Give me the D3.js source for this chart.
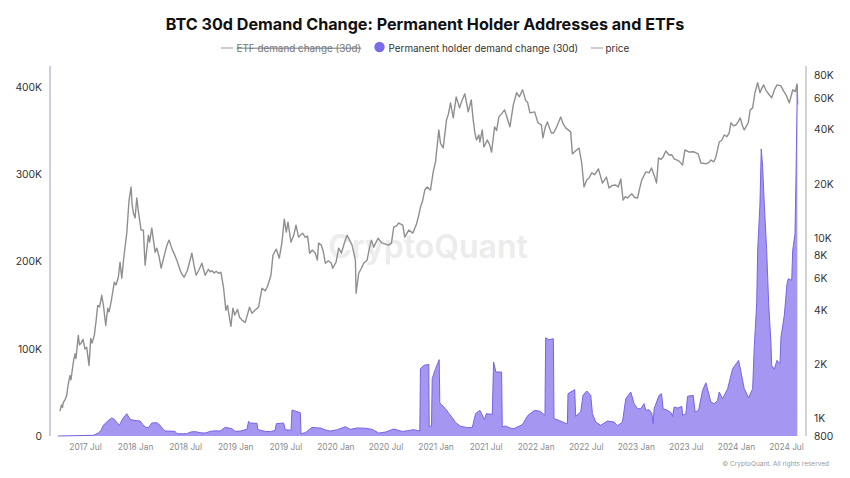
<!DOCTYPE html>
<html>
<head>
<meta charset="utf-8">
<script src="https://cdn.jsdelivr.net/npm/d3@7"></script>
<style>
  html, body { margin: 0; padding: 0; background: #fff; }
  text { font-family: Inter, "Noto Sans", sans-serif; }
</style>
</head>
<body>
<div id="chart"></div>
<script>
'use strict';

// [decimal year, USD]
const priceSeries = [
  [2017.25,1100],[2017.265,1190],[2017.275,1150],[2017.283,1225],[2017.3,1270],[2017.317,1340],[2017.33,1520],[2017.35,1730],
  [2017.36,1640],[2017.383,2050],[2017.4,2280],[2017.41,2150],[2017.433,2890],[2017.445,2560],[2017.46,2610],[2017.48,2750],
  [2017.5,2430],[2017.517,2480],[2017.54,1970],[2017.557,2780],[2017.57,2620],[2017.593,2890],[2017.61,3450],[2017.627,4240],
  [2017.645,4150],[2017.667,4820],[2017.685,4200],[2017.707,3280],[2017.727,4090],[2017.74,3900],[2017.76,4410],[2017.793,5700],
  [2017.81,5500],[2017.833,6070],[2017.85,7360],[2017.867,6000],[2017.89,8040],[2017.917,10660],[2017.94,16260],[2017.96,19200],
  [2017.97,15500],[2017.983,13770],[2018,12920],[2018.017,16680],[2018.035,13800],[2018.06,11080],[2018.083,11080],[2018.1,7080],
  [2018.133,10390],[2018.145,9500],[2018.167,11370],[2018.2,8360],[2018.217,8800],[2018.24,7900],[2018.26,6810],[2018.3,8360],
  [2018.32,9200],[2018.34,9750],[2018.373,8580],[2018.395,8100],[2018.417,7550],[2018.45,6640],[2018.47,6300],[2018.49,6070],
  [2018.523,6640],[2018.545,7400],[2018.567,8250],[2018.59,7000],[2018.61,6230],[2018.64,6700],[2018.667,7260],[2018.7,6230],
  [2018.733,6720],[2018.75,6500],[2018.77,6600],[2018.79,6400],[2018.81,6550],[2018.835,6380],[2018.857,6470],[2018.883,5340],
  [2018.907,3980],[2018.923,4240],[2018.94,3700],[2018.957,3240],[2018.977,4090],[2018.995,3750],[2019.023,4030],[2019.043,3640],
  [2019.07,3500],[2019.1,3410],[2019.143,4140],[2019.167,3830],[2019.2,4000],[2019.233,4140],[2019.267,5270],[2019.3,5100],
  [2019.323,5410],[2019.357,6230],[2019.377,8040],[2019.41,8690],[2019.44,7740],[2019.467,9500],[2019.49,12750],[2019.51,10800],
  [2019.527,12270],[2019.557,9500],[2019.585,10400],[2019.607,11810],[2019.633,10130],[2019.673,10660],[2019.7,10100],[2019.723,10260],
  [2019.743,8250],[2019.77,8600],[2019.8,8250],[2019.82,7550],[2019.833,9380],[2019.86,9140],[2019.88,8400],[2019.9,7260],
  [2019.93,7500],[2019.96,7260],[2019.973,6810],[2020.007,7360],[2020.033,8800],[2020.06,8250],[2020.09,9400],[2020.117,10390],
  [2020.14,9800],[2020.167,9140],[2020.2,7550],[2020.207,4950],[2020.233,6390],[2020.26,6810],[2020.283,7260],[2020.317,7550],
  [2020.34,8800],[2020.36,9750],[2020.383,8910],[2020.427,10000],[2020.46,9450],[2020.5,9260],[2020.53,9150],[2020.56,9380],
  [2020.583,11510],[2020.61,11700],[2020.633,12120],[2020.673,11810],[2020.693,10130],[2020.733,11080],[2020.773,10660],[2020.807,11810],
  [2020.83,13200],[2020.85,14870],[2020.87,16000],[2020.893,18480],[2020.917,19200],[2020.95,18480],[2020.977,23280],[2021,26430],
  [2021.033,39800],[2021.05,33500],[2021.077,31620],[2021.11,45200],[2021.13,49000],[2021.15,56200],[2021.177,46420],[2021.207,60700],
  [2021.24,52750],[2021.265,58000],[2021.293,63100],[2021.327,50100],[2021.357,58400],[2021.375,46000],[2021.393,38300],[2021.41,35000],
  [2021.433,37300],[2021.443,34100],[2021.467,39800],[2021.483,32000],[2021.517,35000],[2021.54,33000],[2021.56,30000],[2021.59,41400],
  [2021.61,39500],[2021.633,47000],[2021.667,49500],[2021.69,51400],[2021.715,46500],[2021.743,41400],[2021.777,54800],[2021.81,64000],
  [2021.837,60700],[2021.87,66400],[2021.9,58000],[2021.92,56500],[2021.943,49500],[2021.99,50100],[2022.023,43600],[2022.057,42400],
  [2022.073,35940],[2022.095,41000],[2022.117,44100],[2022.157,38300],[2022.18,38300],[2022.215,42000],[2022.25,47000],[2022.275,43000],
  [2022.3,40840],[2022.35,38800],[2022.367,29300],[2022.4,30500],[2022.433,31620],[2022.46,26100],[2022.483,19200],[2022.51,21000],
  [2022.533,21540],[2022.56,23000],[2022.59,22500],[2022.627,24200],[2022.667,20200],[2022.707,21800],[2022.733,18960],[2022.765,19600],
  [2022.8,19700],[2022.825,19200],[2022.85,21300],[2022.873,16260],[2022.895,17000],[2022.917,16680],[2022.96,17600],[2022.99,16800],
  [2023.017,16680],[2023.04,19000],[2023.06,21000],[2023.1,23280],[2023.133,23000],[2023.157,24480],[2023.185,22200],[2023.207,20200],
  [2023.227,27830],[2023.25,27300],[2023.273,28200],[2023.3,30400],[2023.333,28900],[2023.36,29000],[2023.383,27500],[2023.43,26800],
  [2023.467,25400],[2023.49,30800],[2023.533,30000],[2023.58,30100],[2023.623,29300],[2023.65,26100],[2023.675,26000],[2023.7,25800],
  [2023.73,26300],[2023.75,27100],[2023.78,26500],[2023.8,28200],[2023.833,34100],[2023.86,35000],[2023.883,37300],[2023.91,36500],
  [2023.933,38300],[2023.95,43600],[2023.975,42000],[2024,42400],[2024.02,44000],[2024.043,46420],[2024.065,42000],[2024.083,39800],
  [2024.123,43600],[2024.143,51400],[2024.167,52750],[2024.19,64000],[2024.217,72700],[2024.24,64000],[2024.257,67500],[2024.277,70700],
  [2024.3,66000],[2024.317,64000],[2024.357,59950],[2024.385,66500],[2024.41,70700],[2024.45,69800],[2024.475,65500],[2024.5,62300],
  [2024.533,56200],[2024.55,61000],[2024.567,66400],[2024.593,64900],[2024.61,71600],[2024.617,55000]
];

// [decimal year, addresses demand change]
const demandSeries = [
  [2017.23,0],[2017.583,760],[2017.633,3400],[2017.66,6500],[2017.683,12200],[2017.723,16800],[2017.767,20600],[2017.785,19800],
  [2017.8,18000],[2017.843,12200],[2017.877,19900],[2017.917,25600],[2017.95,19100],[2017.98,18200],[2018.02,17500],[2018.05,17200],
  [2018.075,13500],[2018.1,10300],[2018.133,9550],[2018.167,14900],[2018.217,15300],[2018.25,12200],[2018.28,7500],[2018.3,5700],
  [2018.35,5600],[2018.4,5300],[2018.417,2700],[2018.47,2500],[2018.517,2700],[2018.56,4700],[2018.6,5000],[2018.65,3800],
  [2018.7,3400],[2018.75,5300],[2018.8,5900],[2018.85,5700],[2018.9,9900],[2018.967,8400],[2019,5300],[2019.05,5700],
  [2019.117,7600],[2019.133,16800],[2019.15,14900],[2019.217,14500],[2019.227,7300],[2019.3,5300],[2019.35,5000],[2019.4,6500],
  [2019.41,14100],[2019.483,14900],[2019.5,7300],[2019.557,6500],[2019.567,29800],[2019.65,26700],[2019.657,2700],[2019.7,3800],
  [2019.767,9900],[2019.81,9400],[2019.85,9200],[2019.9,6900],[2019.95,5700],[2020.02,7200],[2020.1,10700],[2020.15,7600],
  [2020.217,9200],[2020.3,8900],[2020.367,7600],[2020.433,3400],[2020.5,4500],[2020.583,8000],[2020.667,5300],[2020.72,6000],
  [2020.783,7300],[2020.843,5700],[2020.85,77200],[2020.883,81000],[2020.933,82100],[2020.937,11100],[2020.96,11100],[2020.967,65700],
  [2021,77200],[2021.037,87500],[2021.043,37800],[2021.1,31300],[2021.13,26500],[2021.167,21000],[2021.2,15500],[2021.25,11100],
  [2021.31,9800],[2021.367,9550],[2021.4,25600],[2021.443,29400],[2021.49,18700],[2021.507,25600],[2021.567,24800],[2021.58,84800],
  [2021.603,73300],[2021.66,73300],[2021.667,10300],[2021.7,11500],[2021.75,9000],[2021.783,8400],[2021.867,13000],[2021.923,23700],
  [2021.99,29400],[2022.043,28300],[2022.093,23700],[2022.1,112700],[2022.133,110400],[2022.177,111500],[2022.183,19900],[2022.24,17500],
  [2022.3,14500],[2022.317,14100],[2022.323,48500],[2022.39,53100],[2022.4,22500],[2022.45,27500],[2022.473,46600],[2022.51,51600],
  [2022.55,46600],[2022.567,25600],[2022.6,16000],[2022.65,12200],[2022.717,17200],[2022.783,16000],[2022.817,11800],[2022.867,16000],
  [2022.9,42800],[2022.95,50400],[2022.983,37000],[2023.017,31300],[2023.05,31300],[2023.083,37000],[2023.1,29400],[2023.133,30200],
  [2023.16,26000],[2023.173,14100],[2023.183,31300],[2023.233,46600],[2023.257,48500],[2023.273,31300],[2023.317,29400],[2023.35,27000],
  [2023.367,22500],[2023.383,33200],[2023.42,32000],[2023.46,34000],[2023.467,23700],[2023.5,25600],[2023.517,45500],[2023.573,46600],
  [2023.593,27500],[2023.627,29400],[2023.667,52300],[2023.7,61100],[2023.75,39000],[2023.783,37000],[2023.817,40900],[2023.833,50400],
  [2023.867,42800],[2023.917,54200],[2023.967,77200],[2024.027,86700],[2024.05,73300],[2024.083,54200],[2024.127,43900],[2024.167,54200],
  [2024.183,102000],[2024.207,151600],[2024.217,212800],[2024.24,266000],[2024.253,329000],[2024.267,308000],[2024.283,266000],[2024.307,212800],
  [2024.327,151600],[2024.35,105800],[2024.357,81000],[2024.383,76400],[2024.41,86700],[2024.44,82900],[2024.45,113500],[2024.483,138300],
  [2024.51,174600],[2024.523,180300],[2024.557,178400],[2024.567,212800],[2024.59,231900],[2024.6,296800],[2024.613,401900]
];

const yearTicks = d3.range(2017.5, 2025, 0.5);
const demandTicks = [0, 100000, 200000, 300000, 400000];
const priceTicks = [800, 1000, 2000, 4000, 6000, 8000, 10000, 20000, 40000, 60000, 80000];
const legendItems = ["ETF demand change (30d)", "Permanent holder demand change (30d)", "price"];

const width = 850, height = 478;
const margin = {top: 66, right: 44, bottom: 42, left: 50};

let svg = d3.select("#chart").append("svg")
    .attr("width", width)
    .attr("height", height)
    .attr("viewBox", `0 0 ${width} ${height}`)
    .style("display", "block");

// 2017 Jul sits at x=85 and 2024 Jul at x=786
let x = d3.scaleLinear().domain([2017.5, 2024.5]).range([85, 786]);
let yLeft = d3.scaleLinear().domain([0, 400000]).range([height - margin.bottom, 87]);
let yRight = d3.scaleLog().domain([800, 90000]).range([height - margin.bottom, margin.top]);

svg.append("text")
    .attr("x", 425).attr("y", 30)
    .attr("text-anchor", "middle")
    .attr("font-size", 16.15)
    .attr("font-weight", 700)
    .attr("fill", "#111")
    .text("BTC 30d Demand Change: Permanent Holder Addresses and ETFs");

// watermark goes under the data
svg.append("text")
    .attr("x", 428).attr("y", 258)
    .attr("text-anchor", "middle")
    .attr("font-size", 32)
    .attr("font-weight", 600)
    .attr("fill", "#ececec")
    .text("CryptoQuant");

// legend
let legend = svg.append("g").attr("font-size", 9.9).attr("fill", "#333");
legend.append("line").attr("x1", 221).attr("x2", 233).attr("y1", 48).attr("y2", 48).attr("stroke", "#999");
legend.append("text").attr("x", 236.5).attr("y", 51.5).attr("fill", "#777")
    .attr("text-decoration", "line-through").text(legendItems[0]);
legend.append("circle").attr("cx", 379.5).attr("cy", 47).attr("r", 5.2).attr("fill", "#7a6bea");
legend.append("text").attr("x", 388.5).attr("y", 51.5).text(legendItems[1]);
legend.append("line").attr("x1", 591).attr("x2", 603).attr("y1", 48).attr("y2", 48).attr("stroke", "#999");
legend.append("text").attr("x", 605.5).attr("y", 51.5).text(legendItems[2]);

// demand area and its top edge
let area = d3.area()
    .x(d => x(d[0]))
    .y0(yLeft(0))
    .y1(d => yLeft(d[1]));
let edge = d3.line()
    .x(d => x(d[0]))
    .y(d => yLeft(d[1]));

svg.append("path")
    .datum(demandSeries)
    .attr("d", area)
    .attr("fill", "#a596f1");
svg.append("path")
    .datum(demandSeries)
    .attr("d", edge)
    .attr("fill", "none")
    .attr("stroke", "#7565e6")
    .attr("stroke-width", 1);

// price line
let priceLine = d3.line()
    .x(d => x(d[0]))
    .y(d => yRight(d[1]));
svg.append("path")
    .datum(priceSeries)
    .attr("d", priceLine)
    .attr("fill", "none")
    .attr("stroke", "#8f8f8f")
    .attr("stroke-width", 1.4)
    .attr("stroke-linejoin", "round");

// axes
let axisLeft = svg.append("g")
    .attr("transform", `translate(${margin.left},0)`)
    .call(d3.axisLeft(yLeft).tickValues(demandTicks).tickSize(0).tickPadding(8)
        .tickFormat(d => d === 0 ? "0" : d / 1000 + "K"));
axisLeft.select(".domain").remove();
axisLeft.selectAll("text").attr("font-size", 10.3).attr("fill", "#333").style("font-family", "Inter");
svg.append("line")
    .attr("x1", margin.left).attr("x2", margin.left)
    .attr("y1", margin.top).attr("y2", height - margin.bottom)
    .attr("stroke", "#bcbcd2").attr("stroke-width", 1.5);

let axisRight = svg.append("g")
    .attr("transform", `translate(${width - margin.right},0)`)
    .call(d3.axisRight(yRight).tickValues(priceTicks).tickSize(0).tickPadding(8)
        .tickFormat(d => d < 1000 ? String(d) : d / 1000 + "K"));
axisRight.select(".domain").remove();
axisRight.selectAll("text").attr("font-size", 10.3).attr("fill", "#333").style("font-family", "Inter");
svg.append("line")
    .attr("x1", width - margin.right).attr("x2", width - margin.right)
    .attr("y1", margin.top).attr("y2", height - margin.bottom)
    .attr("stroke", "#a8a8a8").attr("stroke-width", 1);

let axisBottom = svg.append("g")
    .attr("transform", `translate(0,${height - margin.bottom})`)
    .call(d3.axisBottom(x).tickValues(yearTicks).tickSize(0).tickPadding(8)
        .tickFormat(d => Math.floor(d) + (d % 1 === 0 ? " Jan" : " Jul")));
axisBottom.select(".domain").remove();
axisBottom.selectAll("text").attr("font-size", 8.3).attr("fill", "#8a8a8a").style("font-family", "Inter");

svg.append("text")
    .attr("x", 829).attr("y", 466)
    .attr("text-anchor", "end")
    .attr("font-size", 6.5)
    .attr("fill", "#999")
    .text("© CryptoQuant. All rights reserved");
</script>
</body>
</html>
